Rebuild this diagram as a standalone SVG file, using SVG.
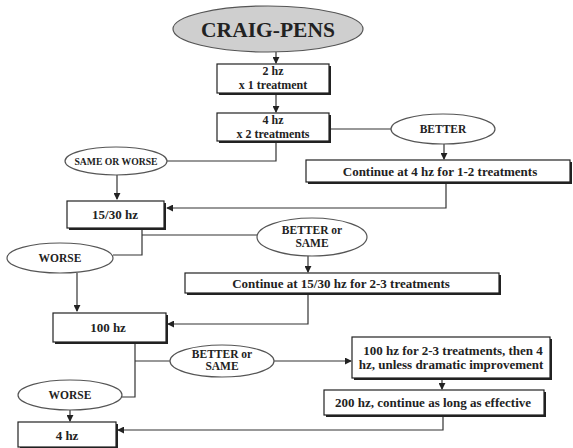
<svg xmlns="http://www.w3.org/2000/svg" width="573" height="448" viewBox="0 0 573 448">
<defs>
<marker id="ah" viewBox="0 0 8 8" refX="7" refY="4" markerWidth="7" markerHeight="7" orient="auto" markerUnits="userSpaceOnUse">
<path d="M0,0 L8,4 L0,8 z" fill="#222"/>
</marker>
<style>
.bx{fill:#fff;stroke:#222;stroke-width:1.2}
.sh{fill:#222}
.el{fill:#fff;stroke:#555;stroke-width:1.2}
.t{font-family:"Liberation Serif",serif;font-weight:bold;fill:#222;text-anchor:middle}
.b{font-size:13px}
.s{font-size:12px}
.e{font-size:11.5px}
.c{stroke:#333;stroke-width:1.2;fill:none}
</style>
</defs>
<rect width="573" height="448" fill="#fff"/>
<g id="connectors">
<path class="c" d="M276,52 V63" marker-end="url(#ah)"/>
<path class="c" d="M276,93 V112" marker-end="url(#ah)"/>
<path class="c" d="M331,129 H391"/>
<path class="c" d="M444,144 V159" marker-end="url(#ah)"/>
<path class="c" d="M276,141 V161 H167"/>
<path class="c" d="M117,175 V199" marker-end="url(#ah)"/>
<path class="c" d="M446,183 V208 H167" marker-end="url(#ah)"/>
<path class="c" d="M142,229 V255 H113"/>
<path class="c" d="M142,235 H257"/>
<path class="c" d="M77,273 V311" marker-end="url(#ah)"/>
<path class="c" d="M308,256 V272" marker-end="url(#ah)"/>
<path class="c" d="M308,294 V324 H168" marker-end="url(#ah)"/>
<path class="c" d="M135,343 V397 H122"/>
<path class="c" d="M135,361 H170"/>
<path class="c" d="M274,361 H351" marker-end="url(#ah)"/>
<path class="c" d="M442,379 V389" marker-end="url(#ah)"/>
<path class="c" d="M443,416 V430 H118" marker-end="url(#ah)"/>
<path class="c" d="M70,410 V421" marker-end="url(#ah)"/>
</g>
<g id="craig-pens">
<ellipse cx="268" cy="29" rx="95" ry="23" fill="#cfcfcf" stroke="#555" stroke-width="1.2"/>
<text class="t" x="268" y="37" font-size="21.5">CRAIG-PENS</text>
</g>
<g id="hz2">
<rect class="sh" x="219" y="66" width="112" height="29"/>
<rect class="bx" x="217" y="64" width="112" height="29"/>
<text class="t s" x="273" y="75">2 hz</text>
<text class="t s" x="273" y="89">x 1 treatment</text>
</g>
<g id="hz4a">
<rect class="sh" x="219" y="115" width="112" height="28"/>
<rect class="bx" x="217" y="113" width="112" height="28"/>
<text class="t s" x="273" y="124">4 hz</text>
<text class="t s" x="273" y="138">x 2 treatments</text>
</g>
<g id="better1">
<ellipse class="el" cx="443" cy="129" rx="52" ry="15"/>
<text class="t e" x="443" y="133">BETTER</text>
</g>
<g id="cont4">
<rect class="sh" x="308" y="162" width="264" height="22"/>
<rect class="bx" x="306" y="160" width="264" height="22"/>
<text class="t b" x="440" y="176">Continue at 4 hz for 1-2 treatments</text>
</g>
<g id="sameworse">
<ellipse class="el" cx="116" cy="161" rx="51" ry="14"/>
<text class="t" x="116" y="164.5" font-size="10" textLength="83" lengthAdjust="spacingAndGlyphs">SAME OR WORSE</text>
</g>
<g id="hz1530">
<rect class="sh" x="69" y="203" width="97" height="27"/>
<rect class="bx" x="67" y="201" width="97" height="27"/>
<text class="t b" x="115" y="219">15/30 hz</text>
</g>
<g id="worse1">
<ellipse class="el" cx="60" cy="258" rx="53" ry="15"/>
<text class="t e" x="60" y="262">WORSE</text>
</g>
<g id="bettersame1">
<ellipse class="el" cx="312" cy="237" rx="55" ry="19"/>
<text class="t e" x="312" y="234">BETTER or</text>
<text class="t e" x="312" y="247">SAME</text>
</g>
<g id="cont1530">
<rect class="sh" x="187" y="275" width="314" height="20"/>
<rect class="bx" x="185" y="273" width="314" height="20"/>
<text class="t b" x="341" y="287.5">Continue at 15/30 hz for 2-3 treatments</text>
</g>
<g id="hz100">
<rect class="sh" x="55" y="315" width="113" height="29"/>
<rect class="bx" x="53" y="313" width="113" height="29"/>
<text class="t b" x="108" y="332">100 hz</text>
</g>
<g id="bettersame2">
<ellipse class="el" cx="222" cy="361" rx="52" ry="16"/>
<text class="t e" x="222" y="358">BETTER or</text>
<text class="t e" x="222" y="370">SAME</text>
</g>
<g id="hz100b">
<rect class="sh" x="354" y="339" width="198" height="41"/>
<rect class="bx" x="352" y="337" width="198" height="41"/>
<text class="t b" x="453" y="355">100 hz for 2-3 treatments, then 4</text>
<text class="t b" x="451" y="369">hz, unless dramatic improvement</text>
</g>
<g id="hz200">
<rect class="sh" x="326" y="392" width="220" height="25"/>
<rect class="bx" x="324" y="390" width="220" height="25"/>
<text class="t b" x="433" y="407">200 hz, continue as long as effective</text>
</g>
<g id="worse2">
<ellipse class="el" cx="70" cy="395" rx="52" ry="15"/>
<text class="t e" x="70" y="399">WORSE</text>
</g>
<g id="hz4b">
<rect class="sh" x="20" y="424" width="98" height="25"/>
<rect class="bx" x="18" y="422" width="98" height="25"/>
<text class="t b" x="67" y="440">4 hz</text>
</g>
</svg>
